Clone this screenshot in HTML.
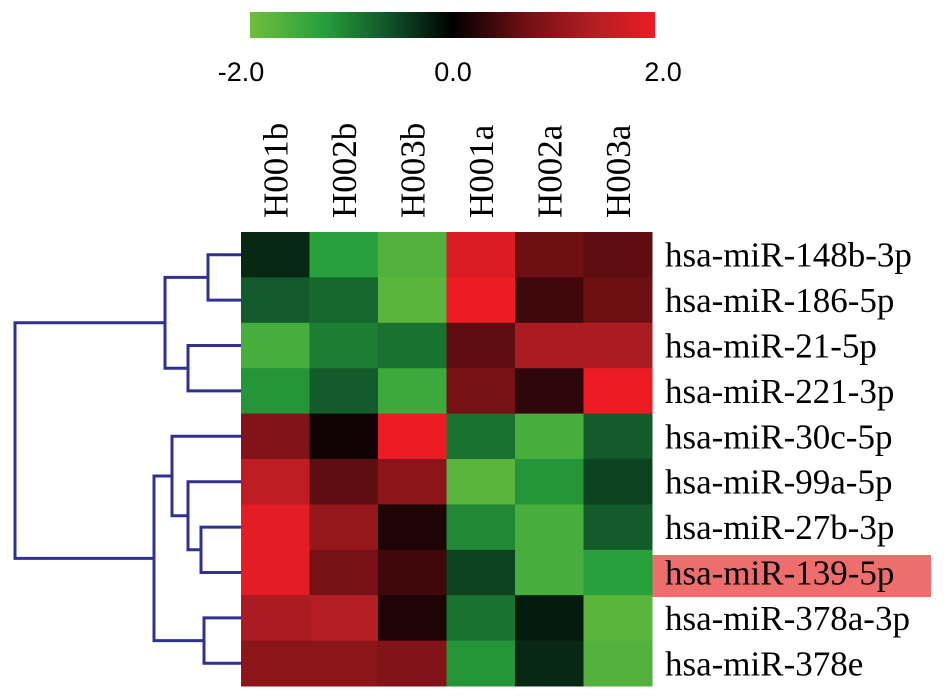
<!DOCTYPE html>
<html><head><meta charset="utf-8"><style>
body{margin:0;background:#fff;width:945px;height:700px;overflow:hidden}
svg{display:block}
</style></head><body>
<svg id="chart" width="945" height="700" xmlns="http://www.w3.org/2000/svg">
<defs><linearGradient id="cb" x1="0" x2="1" y1="0" y2="0">
<stop offset="0" stop-color="#70be3c"/><stop offset="0.18" stop-color="#28a03c"/><stop offset="0.35" stop-color="#0f5028"/><stop offset="0.5" stop-color="#000"/><stop offset="0.675" stop-color="#6e0f14"/><stop offset="0.85" stop-color="#b41e23"/><stop offset="1" stop-color="#ed1c24"/></linearGradient></defs>
<rect x="250" y="12" width="405" height="26" fill="url(#cb)"/>
<g font-family="Liberation Sans, sans-serif" font-size="27" fill="#000" text-anchor="middle">
<text x="241" y="81">-2.0</text>
<text x="453" y="81">0.0</text>
<text x="663" y="81">2.0</text>
</g>
<rect x="652" y="555" width="279" height="42" fill="#ee6e6e"/>
<g id="cells"></g><g id="labels"></g><g id="dendro" stroke="#2e3192" stroke-width="3" fill="none"></g>
</svg>
<script>
const columns=["H001b","H002b","H003b","H001a","H002a","H003a"];
const rows=["hsa-miR-148b-3p","hsa-miR-186-5p","hsa-miR-21-5p","hsa-miR-221-3p","hsa-miR-30c-5p","hsa-miR-99a-5p","hsa-miR-27b-3p","hsa-miR-139-5p","hsa-miR-378a-3p","hsa-miR-378e"];
const r0=[-0.3,-1.3,-1.7,1.8,0.7,0.6];
const r1=[-0.7,-0.8,-1.8,2.0,0.4,0.7];
const r2=[-1.6,-1.0,-0.9,0.6,1.3,1.3];
const r3=[-1.2,-0.7,-1.5,0.8,0.3,2.0];
const r4=[0.9,0.1,2.0,-0.9,-1.6,-0.7];
const r5=[1.5,0.6,1.0,-1.8,-1.2,-0.5];
const r6=[1.9,1.1,0.2,-1.1,-1.6,-0.7];
const r7=[1.9,0.8,0.4,-0.5,-1.6,-1.3];
const r8=[1.3,1.4,0.2,-0.9,-0.2,-1.8];
const r9=[1.0,1.0,0.9,-1.2,-0.3,-1.7];
const values=[r0,r1,r2,r3,r4,r5,r6,r7,r8,r9];
const NS="http://www.w3.org/2000/svg";
const X0=241,Y0=232,CW=68.5,RH=45.4;
const xS=i=>X0+i*CW, yS=i=>Y0+i*RH;
const stops=[[-2,112,190,60],[-1.3,40,160,60],[-0.6,15,80,40],[0,0,0,0],[0.7,110,15,20],[1.4,180,30,35],[2,237,28,36]];
function col(v){v=Math.max(-2,Math.min(2,v));for(let k=0;k<stops.length-1;k++){const a=stops[k],b=stops[k+1];if(v<=b[0]){const t=(v-a[0])/(b[0]-a[0]);return `rgb(${[1,2,3].map(j=>Math.round(a[j]+t*(b[j]-a[j]))).join(',')})`;}}return 'rgb(237,28,36)';}
function mk(t,a,p){const e=document.createElementNS(NS,t);for(const k in a)e.setAttribute(k,a[k]);p.appendChild(e);return e;}
const cells=document.getElementById('cells'),labels=document.getElementById('labels'),dendro=document.getElementById('dendro');
values.forEach((row,i)=>row.forEach((v,j)=>{
 const r=mk('rect',{x:xS(j),y:yS(i),width:CW+0.5,height:RH+0.5,fill:col(v)},cells);
 
 
}));
rows.forEach((n,i)=>{
 const t=mk('text',{x:665,y:yS(i)+RH/2+12,'font-family':'Liberation Serif, serif','font-size':35},labels);
 t.textContent=n;
 
 
});
columns.forEach((n,j)=>{
 const cx=xS(j)+CW/2+12,cy=218;
 const t=mk('text',{x:cx,y:cy,transform:`rotate(-90 ${cx} ${cy})`,'font-family':'Liberation Serif, serif','font-size':35},labels);
 t.textContent=n;
 
 
});
const rc=i=>yS(i)+RH/2;
function link(x,ya,yb,xa,xb){const p=mk('path',{d:`M${xa},${ya}H${x}V${yb}H${xb}`},dendro);
 
 
 return (ya+yb)/2;}
const L=241;
const a=link(208,rc(0),rc(1),L,L);
const b=link(188,rc(2),rc(3),L,L);
const ab=link(165,a,b,208,188);
const c=link(201,rc(6),rc(7),L,L);
const d=link(188,rc(5),c,L,201);
const e=link(172,rc(4),d,L,188);
const f=link(204,rc(8),rc(9),L,L);
const g=link(154,e,f,172,204);
link(15,ab,g,165,154);
</script>
</body></html>
